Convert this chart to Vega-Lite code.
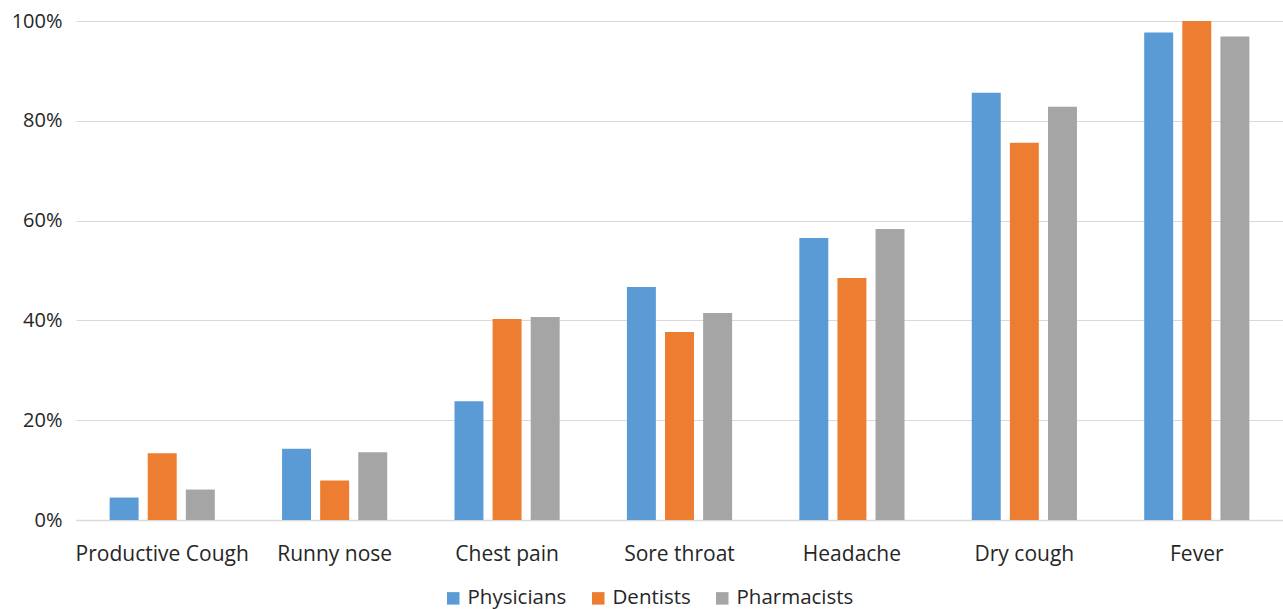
{
  "$schema": "https://vega.github.io/schema/vega-lite/v6.json",
  "width": 1207,
  "height": 499,
  "autosize": {"type": "none"},
  "padding": {"left": 76, "top": 21, "right": 0, "bottom": 89},
  "background": "white",
  "config": {
    "view": {"stroke": null},
    "font": "Open Sans",
    "axis": {"labelFont": "Open Sans", "labelColor": "#262626"},
    "legend": {"labelFont": "Open Sans", "labelColor": "#262626"}
  },
  "data": {
    "values": [
      {"symptom": "Productive Cough", "group": "Physicians", "value": 0.045},
      {"symptom": "Productive Cough", "group": "Dentists", "value": 0.134},
      {"symptom": "Productive Cough", "group": "Pharmacists", "value": 0.061},
      {"symptom": "Runny nose", "group": "Physicians", "value": 0.143},
      {"symptom": "Runny nose", "group": "Dentists", "value": 0.079},
      {"symptom": "Runny nose", "group": "Pharmacists", "value": 0.136},
      {"symptom": "Chest pain", "group": "Physicians", "value": 0.238},
      {"symptom": "Chest pain", "group": "Dentists", "value": 0.403},
      {"symptom": "Chest pain", "group": "Pharmacists", "value": 0.407},
      {"symptom": "Sore throat", "group": "Physicians", "value": 0.467},
      {"symptom": "Sore throat", "group": "Dentists", "value": 0.377},
      {"symptom": "Sore throat", "group": "Pharmacists", "value": 0.415},
      {"symptom": "Headache", "group": "Physicians", "value": 0.565},
      {"symptom": "Headache", "group": "Dentists", "value": 0.485},
      {"symptom": "Headache", "group": "Pharmacists", "value": 0.583},
      {"symptom": "Dry cough", "group": "Physicians", "value": 0.856},
      {"symptom": "Dry cough", "group": "Dentists", "value": 0.756},
      {"symptom": "Dry cough", "group": "Pharmacists", "value": 0.828},
      {"symptom": "Fever", "group": "Physicians", "value": 0.977},
      {"symptom": "Fever", "group": "Dentists", "value": 1.0},
      {"symptom": "Fever", "group": "Pharmacists", "value": 0.969}
    ]
  },
  "mark": {"type": "bar"},
  "encoding": {
    "x": {
      "field": "symptom",
      "type": "nominal",
      "sort": null,
      "title": null,
      "scale": {"paddingInner": 0.39, "paddingOuter": 0.195},
      "axis": {"labelAngle": 0, "ticks": false, "domainColor": "#d9d9d9", "domainWidth": 1.5, "labelPadding": 23, "labelFontSize": 21}
    },
    "xOffset": {
      "field": "group",
      "type": "nominal",
      "sort": ["Physicians", "Dentists", "Pharmacists"],
      "scale": {"paddingInner": 0.24, "paddingOuter": 0}
    },
    "y": {
      "field": "value",
      "type": "quantitative",
      "title": null,
      "scale": {"domain": [0, 1], "nice": false},
      "axis": {"format": ".0%", "values": [0, 0.2, 0.4, 0.6, 0.8, 1.0], "ticks": false, "domain": false, "gridColor": "#d9d9d9", "gridWidth": 1.2, "labelPadding": 14, "labelFontSize": 20}
    },
    "color": {
      "field": "group",
      "type": "nominal",
      "sort": ["Physicians", "Dentists", "Pharmacists"],
      "scale": {"domain": ["Physicians", "Dentists", "Pharmacists"], "range": ["#5B9BD5", "#ED7D31", "#A5A5A5"]},
      "legend": {
        "title": null,
        "orient": "none",
        "direction": "horizontal",
        "legendX": 367,
        "legendY": 567,
        "symbolType": "square",
        "symbolSize": 156,
        "symbolStrokeWidth": 0,
        "labelOffset": 4,
        "columnPadding": 21,
        "labelFontSize": 20.5
      }
    }
  }
}
